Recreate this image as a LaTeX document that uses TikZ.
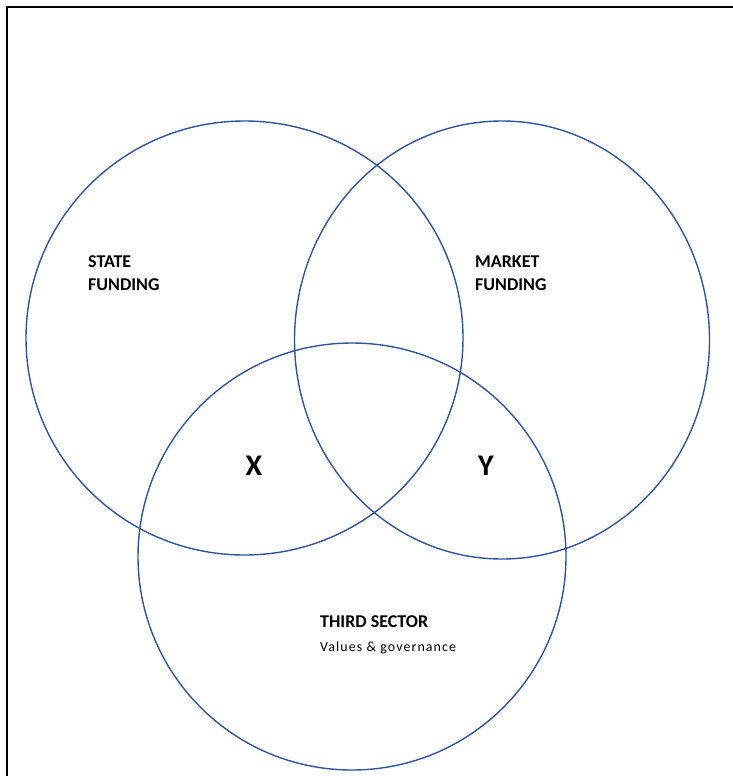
\documentclass[tikz,border=0pt]{standalone}
\usepackage{fontspec}
\setmainfont{Carlito}
\newfontfamily\spacedfont[LetterSpace=8]{Carlito}
\definecolor{ringblue}{HTML}{2F5597}
\begin{document}
\begin{tikzpicture}[x=1pt,y=-1pt,
  ring/.style={draw=ringblue,line width=1.4pt},
  heading/.style={anchor=base west,inner sep=0pt,font=\fontsize{18}{21}\selectfont\bfseries,align=left},
  bigletter/.style={inner sep=0pt,font=\fontsize{30}{33}\selectfont\bfseries},
  note/.style={anchor=base west,inner sep=0pt,font=\spacedfont\fontsize{13.9}{16}\selectfont}]
\useasboundingbox (0,0) rectangle (733,776);
% frame edges (top and left)
\draw[line width=2pt] (7,776) -- (7,7) -- (733,7);
% the three sets
\draw[ring] (244.5,338) ellipse [x radius=218.5, y radius=217];
\draw[ring] (502,340) ellipse [x radius=207.5, y radius=219];
\draw[ring] (352,556.5) ellipse [x radius=214, y radius=213.5];
% labels
\node[heading] (state) at (88,267) {STATE};
\node[heading] (statef) at (88,290) {FUNDING};
\node[heading] (market) at (475,267) {MARKET};
\node[heading] (marketf) at (475,290) {FUNDING};
\node[heading] (third) at (320,627) {THIRD SECTOR};
\node[note] (values) at (320,651) {Values \& governance};
\node[bigletter] (x) at (254,466) {X};
\node[bigletter] (y) at (486,466) {Y};
\end{tikzpicture}
\end{document}
